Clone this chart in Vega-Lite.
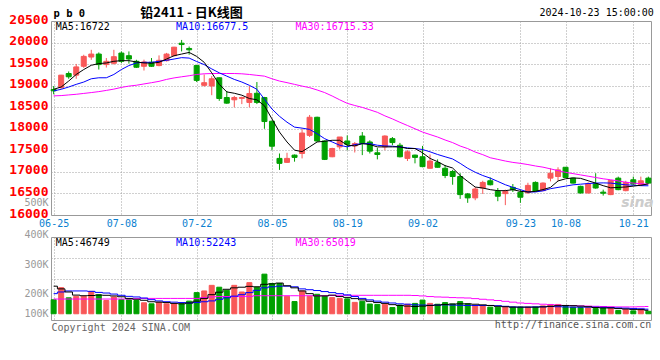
{
  "$schema": "https://vega.github.io/schema/vega-lite/v6.json",
  "background": "white",
  "padding": {"left": 8, "top": 6, "right": 5, "bottom": 5},
  "title": {"text": "铅2411 - 日K线图", "anchor": "start", "frame": "bounds", "dx": 132, "offset": -12, "font": "Noto Sans CJK SC", "fontSize": 13, "fontWeight": "bold", "color": "#000000"},
  "config": {
    "view": {"stroke": "#999999", "strokeWidth": 1},
    "axis": {"domain": false, "ticks": false, "gridColor": "#a0a0a0", "gridDash": [1, 2], "gridWidth": 1, "labelFont": "DejaVu Sans Mono", "titleFont": "DejaVu Sans Mono"}
  },
  "bounds": "flush",
  "spacing": 22,
  "datasets": {
    "k": [
      {"d":"06-25","o":18910,"h":18990,"l":18800,"c":18880,"v":97600,"m5":18916,"m10":18878,"m30":18763,"v5":163000,"v10":127000,"v30":101000},
      {"d":"06-26","o":18954,"h":19250,"l":18930,"c":19244,"v":156000,"m5":18969,"m10":18916,"m30":18770,"v5":150000,"v10":135000,"v30":101000},
      {"d":"06-27","o":19282,"h":19330,"l":19160,"c":19206,"v":107000,"m5":19107,"m10":18969,"m30":18785,"v5":135000,"v10":140000,"v30":101000},
      {"d":"06-28","o":19244,"h":19504,"l":19160,"c":19435,"v":114000,"m5":19260,"m10":19030,"m30":18800,"v5":120000,"v10":140000,"v30":101000},
      {"d":"07-01","o":19450,"h":19717,"l":19412,"c":19679,"v":114000,"m5":19374,"m10":19084,"m30":18820,"v5":117000,"v10":140000,"v30":101000},
      {"d":"07-02","o":19664,"h":19832,"l":19600,"c":19733,"v":138000,"m5":19473,"m10":19160,"m30":18840,"v5":118000,"v10":138000,"v30":101000},
      {"d":"07-03","o":19733,"h":19771,"l":19374,"c":19489,"v":122000,"m5":19511,"m10":19183,"m30":18862,"v5":120000,"v10":133000,"v30":101000},
      {"d":"07-04","o":19489,"h":19641,"l":19420,"c":19565,"v":94000,"m5":19527,"m10":19183,"m30":18890,"v5":119000,"v10":130000,"v30":101000},
      {"d":"07-05","o":19519,"h":19832,"l":19489,"c":19672,"v":111000,"m5":19565,"m10":19260,"m30":18920,"v5":116000,"v10":125000,"v30":101000},
      {"d":"07-08","o":19756,"h":19794,"l":19527,"c":19565,"v":98000,"m5":19580,"m10":19374,"m30":18960,"v5":112000,"v10":119000,"v30":101000},
      {"d":"07-09","o":19695,"h":19794,"l":19511,"c":19618,"v":98000,"m5":19580,"m10":19466,"m30":18990,"v5":104000,"v10":114000,"v30":101000},
      {"d":"07-10","o":19565,"h":19600,"l":19412,"c":19427,"v":94000,"m5":19550,"m10":19527,"m30":19010,"v5":100000,"v10":111000,"v30":103000},
      {"d":"07-11","o":19450,"h":19603,"l":19351,"c":19550,"v":83000,"m5":19527,"m10":19542,"m30":19040,"v5":95000,"v10":106000,"v30":104000},
      {"d":"07-12","o":19542,"h":19641,"l":19435,"c":19450,"v":78000,"m5":19520,"m10":19542,"m30":19069,"v5":88000,"v10":98000,"v30":104000},
      {"d":"07-15","o":19466,"h":19702,"l":19450,"c":19588,"v":86000,"m5":19542,"m10":19565,"m30":19100,"v5":86000,"v10":92000,"v30":104000},
      {"d":"07-16","o":19580,"h":19760,"l":19560,"c":19733,"v":78000,"m5":19618,"m10":19588,"m30":19145,"v5":84000,"v10":88000,"v30":104000},
      {"d":"07-17","o":19695,"h":19900,"l":19680,"c":19893,"v":78000,"m5":19695,"m10":19618,"m30":19180,"v5":80000,"v10":86000,"v30":104000},
      {"d":"07-18","o":19985,"h":20061,"l":19794,"c":19954,"v":78000,"m5":19733,"m10":19650,"m30":19206,"v5":78000,"v10":84000,"v30":104000},
      {"d":"07-19","o":19863,"h":19908,"l":19718,"c":19832,"v":91000,"m5":19771,"m10":19640,"m30":19230,"v5":82000,"v10":82000,"v30":104000},
      {"d":"07-22","o":19466,"h":19480,"l":19084,"c":19122,"v":132000,"m5":19679,"m10":19560,"m30":19260,"v5":91000,"v10":84000,"v30":104000},
      {"d":"07-23","o":19008,"h":19260,"l":18977,"c":19069,"v":140000,"m5":19542,"m10":19489,"m30":19275,"v5":104000,"v10":88000,"v30":108000},
      {"d":"07-24","o":18992,"h":19221,"l":18779,"c":19160,"v":167000,"m5":19298,"m10":19389,"m30":19282,"v5":122000,"v10":92000,"v30":111000},
      {"d":"07-25","o":19183,"h":19190,"l":18649,"c":18702,"v":158000,"m5":19030,"m10":19298,"m30":19282,"v5":134000,"v10":100000,"v30":113000},
      {"d":"07-26","o":18725,"h":18878,"l":18580,"c":18595,"v":143000,"m5":18855,"m10":19221,"m30":19282,"v5":148000,"v10":107000,"v30":113000},
      {"d":"07-29","o":18672,"h":18763,"l":18496,"c":18725,"v":167000,"m5":18824,"m10":19145,"m30":19282,"v5":155000,"v10":115000,"v30":113000},
      {"d":"07-30","o":18705,"h":18745,"l":18572,"c":18725,"v":135000,"m5":18779,"m10":19084,"m30":19275,"v5":158000,"v10":122000,"v30":113000},
      {"d":"07-31","o":18611,"h":18992,"l":18496,"c":18817,"v":180000,"m5":18702,"m10":19008,"m30":19260,"v5":162000,"v10":132000,"v30":114000},
      {"d":"08-01","o":18824,"h":19084,"l":18573,"c":18611,"v":158000,"m5":18672,"m10":18916,"m30":19240,"v5":160000,"v10":143000,"v30":117000},
      {"d":"08-02","o":18725,"h":18740,"l":18000,"c":18168,"v":221000,"m5":18534,"m10":18687,"m30":19221,"v5":172000,"v10":155000,"v30":117000},
      {"d":"08-05","o":18175,"h":18190,"l":17504,"c":17595,"v":176000,"m5":18229,"m10":18458,"m30":19160,"v5":174000,"v10":160000,"v30":117000},
      {"d":"08-06","o":17313,"h":17427,"l":17046,"c":17198,"v":176000,"m5":17924,"m10":18290,"m30":19107,"v5":178000,"v10":163000,"v30":117000},
      {"d":"08-07","o":17221,"h":17443,"l":17210,"c":17313,"v":114000,"m5":17694,"m10":18153,"m30":19070,"v5":165000,"v10":163000,"v30":117000},
      {"d":"08-08","o":17389,"h":17404,"l":17237,"c":17336,"v":89000,"m5":17504,"m10":18038,"m30":19030,"v5":155000,"v10":160000,"v30":117000},
      {"d":"08-09","o":17427,"h":18000,"l":17313,"c":17901,"v":140000,"m5":17470,"m10":18015,"m30":18990,"v5":140000,"v10":150000,"v30":117000},
      {"d":"08-12","o":17847,"h":18320,"l":17809,"c":18267,"v":114000,"m5":17580,"m10":17985,"m30":18954,"v5":127000,"v10":146000,"v30":117000},
      {"d":"08-13","o":18267,"h":18280,"l":17700,"c":17717,"v":124000,"m5":17694,"m10":17885,"m30":18900,"v5":116000,"v10":142000,"v30":117000},
      {"d":"08-14","o":17717,"h":17730,"l":17275,"c":17290,"v":114000,"m5":17710,"m10":17771,"m30":18840,"v5":116000,"v10":137000,"v30":117000},
      {"d":"08-15","o":17351,"h":17560,"l":17340,"c":17542,"v":108000,"m5":17733,"m10":17694,"m30":18760,"v5":120000,"v10":132000,"v30":118000},
      {"d":"08-16","o":17580,"h":17809,"l":17519,"c":17809,"v":104000,"m5":17733,"m10":17618,"m30":18672,"v5":113000,"v10":127000,"v30":119000},
      {"d":"08-19","o":17717,"h":17847,"l":17504,"c":17641,"v":102000,"m5":17620,"m10":17580,"m30":18590,"v5":109000,"v10":121000,"v30":119000},
      {"d":"08-20","o":17603,"h":17694,"l":17450,"c":17656,"v":85000,"m5":17603,"m10":17634,"m30":18540,"v5":103000,"v10":113000,"v30":119000},
      {"d":"08-21","o":17832,"h":17924,"l":17389,"c":17656,"v":90000,"m5":17656,"m10":17656,"m30":18496,"v5":97000,"v10":104000,"v30":119000},
      {"d":"08-22","o":17694,"h":17733,"l":17427,"c":17481,"v":77000,"m5":17634,"m10":17656,"m30":18440,"v5":90000,"v10":97000,"v30":119000},
      {"d":"08-23","o":17443,"h":17557,"l":17290,"c":17404,"v":75000,"m5":17580,"m10":17618,"m30":18382,"v5":84000,"v10":91000,"v30":119000},
      {"d":"08-26","o":17580,"h":17847,"l":17504,"c":17832,"v":76000,"m5":17580,"m10":17603,"m30":18300,"v5":80000,"v10":86000,"v30":119000},
      {"d":"08-27","o":17771,"h":17809,"l":17618,"c":17680,"v":60000,"m5":17580,"m10":17595,"m30":18229,"v5":74000,"v10":82000,"v30":119000},
      {"d":"08-28","o":17618,"h":17672,"l":17336,"c":17351,"v":72000,"m5":17580,"m10":17580,"m30":18150,"v5":70000,"v10":78000,"v30":119000},
      {"d":"08-29","o":17313,"h":17504,"l":17252,"c":17466,"v":76000,"m5":17542,"m10":17557,"m30":18076,"v5":67000,"v10":76000,"v30":119000},
      {"d":"08-30","o":17389,"h":17400,"l":17198,"c":17336,"v":80000,"m5":17542,"m10":17542,"m30":18000,"v5":65000,"v10":73000,"v30":118000},
      {"d":"09-02","o":17351,"h":17603,"l":17107,"c":17122,"v":96000,"m5":17443,"m10":17519,"m30":17924,"v5":67000,"v10":72000,"v30":116000},
      {"d":"09-03","o":17084,"h":17404,"l":17080,"c":17252,"v":80000,"m5":17313,"m10":17466,"m30":17866,"v5":70000,"v10":71000,"v30":113000},
      {"d":"09-04","o":17214,"h":17290,"l":17100,"c":17107,"v":76000,"m5":17237,"m10":17404,"m30":17809,"v5":72000,"v10":72000,"v30":111000},
      {"d":"09-05","o":17084,"h":17160,"l":16855,"c":16916,"v":84000,"m5":17145,"m10":17351,"m30":17740,"v5":75000,"v10":73000,"v30":110000},
      {"d":"09-06","o":17008,"h":17046,"l":16702,"c":16893,"v":77000,"m5":17090,"m10":17300,"m30":17679,"v5":77000,"v10":72000,"v30":108000},
      {"d":"09-09","o":16893,"h":16969,"l":16374,"c":16473,"v":89000,"m5":16916,"m10":17198,"m30":17600,"v5":78000,"v10":71000,"v30":107000},
      {"d":"09-10","o":16488,"h":16511,"l":16282,"c":16397,"v":78000,"m5":16779,"m10":17084,"m30":17540,"v5":78000,"v10":70000,"v30":106000},
      {"d":"09-11","o":16397,"h":16649,"l":16343,"c":16603,"v":70000,"m5":16649,"m10":16992,"m30":17460,"v5":76000,"v10":70000,"v30":103000},
      {"d":"09-12","o":16626,"h":16794,"l":16488,"c":16756,"v":70000,"m5":16626,"m10":16916,"m30":17400,"v5":73000,"v10":70000,"v30":100000},
      {"d":"09-13","o":16794,"h":16870,"l":16687,"c":16702,"v":62000,"m5":16588,"m10":16855,"m30":17328,"v5":70000,"v10":70000,"v30":97000},
      {"d":"09-18","o":16549,"h":16626,"l":16320,"c":16435,"v":62000,"m5":16565,"m10":16779,"m30":17290,"v5":66000,"v10":69000,"v30":94000},
      {"d":"09-19","o":16496,"h":16588,"l":16229,"c":16549,"v":62000,"m5":16565,"m10":16702,"m30":17252,"v5":64000,"v10":66000,"v30":90000},
      {"d":"09-20","o":16641,"h":16718,"l":16534,"c":16588,"v":62000,"m5":16588,"m10":16641,"m30":17220,"v5":62000,"v10":63000,"v30":86000},
      {"d":"09-23","o":16527,"h":16588,"l":16282,"c":16412,"v":62000,"m5":16549,"m10":16588,"m30":17198,"v5":62000,"v10":62000,"v30":82000},
      {"d":"09-24","o":16519,"h":16748,"l":16488,"c":16687,"v":62000,"m5":16534,"m10":16534,"m30":17170,"v5":62000,"v10":62000,"v30":80000},
      {"d":"09-25","o":16756,"h":16779,"l":16540,"c":16550,"v":62000,"m5":16549,"m10":16534,"m30":17137,"v5":62000,"v10":63000,"v30":78000},
      {"d":"09-26","o":16565,"h":16756,"l":16560,"c":16741,"v":68000,"m5":16590,"m10":16560,"m30":17110,"v5":63000,"v10":64000,"v30":76000},
      {"d":"09-27","o":16855,"h":17084,"l":16779,"c":16969,"v":75000,"m5":16640,"m10":16610,"m30":17070,"v5":66000,"v10":65000,"v30":74000},
      {"d":"09-30","o":16893,"h":17107,"l":16794,"c":17046,"v":75000,"m5":16790,"m10":16640,"m30":17030,"v5":69000,"v10":64000,"v30":72000},
      {"d":"10-08","o":17107,"h":17110,"l":16860,"c":16870,"v":65000,"m5":16840,"m10":16670,"m30":16990,"v5":70000,"v10":63000,"v30":70000},
      {"d":"10-09","o":16855,"h":16860,"l":16730,"c":16740,"v":62000,"m5":16860,"m10":16700,"m30":16960,"v5":69000,"v10":62000,"v30":69000},
      {"d":"10-10","o":16664,"h":16680,"l":16500,"c":16511,"v":60000,"m5":16850,"m10":16715,"m30":16930,"v5":67000,"v10":62000,"v30":68000},
      {"d":"10-11","o":16511,"h":16760,"l":16500,"c":16725,"v":58000,"m5":16795,"m10":16730,"m30":16900,"v5":64000,"v10":62000,"v30":67000},
      {"d":"10-14","o":16725,"h":16969,"l":16610,"c":16626,"v":55000,"m5":16740,"m10":16740,"m30":16870,"v5":60000,"v10":62000,"v30":66000},
      {"d":"10-15","o":16530,"h":16588,"l":16450,"c":16505,"v":57000,"m5":16680,"m10":16745,"m30":16840,"v5":58000,"v10":61000,"v30":65000},
      {"d":"10-16","o":16473,"h":16815,"l":16460,"c":16801,"v":58000,"m5":16630,"m10":16740,"m30":16817,"v5":58000,"v10":60000,"v30":64000},
      {"d":"10-17","o":16855,"h":16890,"l":16575,"c":16588,"v":46000,"m5":16640,"m10":16720,"m30":16790,"v5":55000,"v10":58000,"v30":63000},
      {"d":"10-18","o":16565,"h":16794,"l":16550,"c":16756,"v":50000,"m5":16650,"m10":16700,"m30":16760,"v5":53000,"v10":57000,"v30":63000},
      {"d":"10-21","o":16817,"h":16890,"l":16700,"c":16718,"v":44000,"m5":16670,"m10":16690,"m30":16740,"v5":51000,"v10":55000,"v30":63000},
      {"d":"10-22","o":16702,"h":16890,"l":16690,"c":16794,"v":52000,"m5":16690,"m10":16680,"m30":16725,"v5":50000,"v10":54000,"v30":64000},
      {"d":"10-23","o":16855,"h":16890,"l":16730,"c":16740,"v":42000,"m5":16722,"m10":16677.5,"m30":16715.33,"v5":46749,"v10":52243,"v30":65019}
    ]
  },
  "vconcat": [
    {
      "width": 600,
      "height": 194,
      "title": {"text": "2024-10-23 15:00:00", "anchor": "end", "offset": -10, "font": "DejaVu Sans Mono", "fontSize": 10, "fontWeight": "normal", "color": "#000000"},
      "data": {"name": "k"},
      "encoding": {
        "x": {"field": "d", "type": "ordinal", "scale": {"type": "point", "padding": 0.35},
          "axis": {"values": ["06-25","07-08","07-22","08-05","08-19","09-02","09-23","10-08","10-21"], "title": null, "labelColor": "#0a7fd0", "labelFontSize": 10, "labelPadding": 3, "labelAngle": 0, "grid": true}}
      },
      "layer": [
        {
          "mark": {"type": "rule", "strokeWidth": 1},
          "encoding": {
            "y": {"field": "l", "type": "quantitative", "scale": {"domain": [16000, 20500], "nice": false, "zero": false},
              "axis": {"values": [16000,16500,17000,17500,18000,18500,19000,19500,20000,20500], "tickCount": 20, "format": "d", "labelOverlap": false, "labelColor": "#ff0000", "labelFontSize": 13, "labelFontWeight": "bold", "labelPadding": 3, "labelOffset": -2, "grid": true,
                "gridOpacity": {"condition": {"test": "datum.value > 16000 && datum.value < 20500", "value": 1}, "value": 0},
                "title": "p b 0", "titleAngle": 0, "titleAlign": "left", "titleBaseline": "alphabetic", "titleX": 2, "titleY": -5, "titleFontSize": 10.5, "titleFontWeight": "bold", "titleColor": "#000000"}},
            "y2": {"field": "h"},
            "color": {"condition": {"test": "datum.c >= datum.o", "value": "#f85858"}, "value": "#00a000"}
          }
        },
        {
          "mark": {"type": "bar", "size": 5, "strokeWidth": 1},
          "encoding": {
            "y": {"field": "o", "type": "quantitative"},
            "y2": {"field": "c"},
            "fill": {"condition": {"test": "datum.c >= datum.o", "value": "#f85858"}, "value": "#00a000"},
            "stroke": {"condition": {"test": "datum.c >= datum.o", "value": "#f85858"}, "value": "#00a000"}
          }
        },
        {
          "mark": {"type": "line", "color": "#ff00ff", "strokeWidth": 1},
          "encoding": {"y": {"field": "m30", "type": "quantitative"}}
        },
        {
          "mark": {"type": "line", "color": "#0000ff", "strokeWidth": 1},
          "encoding": {"y": {"field": "m10", "type": "quantitative"}}
        },
        {
          "mark": {"type": "line", "color": "#000000", "strokeWidth": 1},
          "encoding": {"y": {"field": "m5", "type": "quantitative"}}
        },
        {
          "data": {"values": [{"t": "MA5:16722"}]},
          "mark": {"type": "text", "align": "left", "baseline": "top", "dx": 2, "dy": 1, "font": "DejaVu Sans Mono", "fontSize": 10, "color": "#000000"},
          "encoding": {"x": {"datum": "06-25", "type": "ordinal"}, "y": {"datum": 20500, "type": "quantitative"}, "text": {"field": "t"}}
        },
        {
          "data": {"values": [{"t": "MA10:16677.5"}]},
          "mark": {"type": "text", "align": "left", "baseline": "top", "dx": 2, "dy": 1, "font": "DejaVu Sans Mono", "fontSize": 10, "color": "#0000ff"},
          "encoding": {"x": {"datum": "07-17", "type": "ordinal"}, "y": {"datum": 20500, "type": "quantitative"}, "text": {"field": "t"}}
        },
        {
          "data": {"values": [{"t": "MA30:16715.33"}]},
          "mark": {"type": "text", "align": "left", "baseline": "top", "dx": 1, "dy": 1, "font": "DejaVu Sans Mono", "fontSize": 10, "color": "#ff00ff"},
          "encoding": {"x": {"datum": "08-08", "type": "ordinal"}, "y": {"datum": 20500, "type": "quantitative"}, "text": {"field": "t"}}
        },
        {
          "data": {"values": [{"t": "sina"}]},
          "mark": {"type": "text", "align": "left", "baseline": "alphabetic", "dx": 3, "font": "DejaVu Sans", "fontSize": 14, "fontWeight": "bold", "fontStyle": "italic", "color": "#cccccc"},
          "encoding": {"x": {"datum": "10-17", "type": "ordinal"}, "y": {"datum": 16180, "type": "quantitative"}, "text": {"field": "t"}}
        }
      ]
    },
    {
      "width": 600,
      "height": 83,
      "title": {"text": "http://finance.sina.com.cn", "orient": "bottom", "anchor": "end", "offset": -12, "font": "DejaVu Sans Mono", "fontSize": 10, "fontWeight": "normal", "color": "#555555"},
      "data": {"name": "k"},
      "encoding": {
        "x": {"field": "d", "type": "ordinal", "scale": {"type": "point", "padding": 0.35},
          "axis": {"values": ["06-25","07-08","07-22","08-05","08-19","09-02","09-23","10-08","10-21"], "labels": false, "grid": true, "title": "Copyright 2024 SINA.COM", "titleAnchor": "start", "titleFontSize": 10, "titleFontWeight": "normal", "titleColor": "#666666", "titlePadding": 2}}
      },
      "layer": [
        {
          "mark": {"type": "bar", "size": 5, "strokeWidth": 1},
          "encoding": {
            "y": {"field": "v", "type": "quantitative", "scale": {"domain": [0, 400000], "nice": false, "zero": false},
              "axis": {"values": [100000, 200000, 300000, 400000], "tickCount": 10, "labelExpr": "(datum.value / 1000) + 'K'", "labelOverlap": false, "labelColor": "#999999", "labelFontSize": 10, "labelPadding": 3,
                "labelOffset": {"condition": [{"test": "datum.value == 400000", "value": -3}, {"test": "datum.value == 300000", "value": 6.5}], "value": 14.5},
                "grid": true,
                "gridOpacity": {"condition": {"test": "datum.value == 200000 || datum.value == 300000", "value": 1}, "value": 0},
                "title": "500K", "titleAngle": 0, "titleAlign": "right", "titleBaseline": "middle", "titleX": -3, "titleY": -35, "titleColor": "#999999", "titleFontSize": 10, "titleFontWeight": "normal"}},
            "y2": {"datum": 30000},
            "fill": {"condition": {"test": "datum.c >= datum.o", "value": "#f85858"}, "value": "#00a000"},
            "stroke": {"condition": {"test": "datum.c >= datum.o", "value": "#f85858"}, "value": "#00a000"}
          }
        },
        {
          "mark": {"type": "line", "interpolate": "step", "color": "#ff00ff", "strokeWidth": 1},
          "encoding": {"y": {"field": "v30", "type": "quantitative"}}
        },
        {
          "mark": {"type": "line", "interpolate": "step", "color": "#0000ff", "strokeWidth": 1},
          "encoding": {"y": {"field": "v10", "type": "quantitative"}}
        },
        {
          "mark": {"type": "line", "interpolate": "step", "color": "#000000", "strokeWidth": 1},
          "encoding": {"y": {"field": "v5", "type": "quantitative"}}
        },
        {
          "data": {"values": [{"t": "MA5:46749"}]},
          "mark": {"type": "text", "align": "left", "baseline": "top", "dx": 2, "dy": 1, "font": "DejaVu Sans Mono", "fontSize": 10, "color": "#000000"},
          "encoding": {"x": {"datum": "06-25", "type": "ordinal"}, "y": {"datum": 400000, "type": "quantitative"}, "text": {"field": "t"}}
        },
        {
          "data": {"values": [{"t": "MA10:52243"}]},
          "mark": {"type": "text", "align": "left", "baseline": "top", "dx": 2, "dy": 1, "font": "DejaVu Sans Mono", "fontSize": 10, "color": "#0000ff"},
          "encoding": {"x": {"datum": "07-17", "type": "ordinal"}, "y": {"datum": 400000, "type": "quantitative"}, "text": {"field": "t"}}
        },
        {
          "data": {"values": [{"t": "MA30:65019"}]},
          "mark": {"type": "text", "align": "left", "baseline": "top", "dx": 1, "dy": 1, "font": "DejaVu Sans Mono", "fontSize": 10, "color": "#ff00ff"},
          "encoding": {"x": {"datum": "08-08", "type": "ordinal"}, "y": {"datum": 400000, "type": "quantitative"}, "text": {"field": "t"}}
        }
      ]
    }
  ]
}
